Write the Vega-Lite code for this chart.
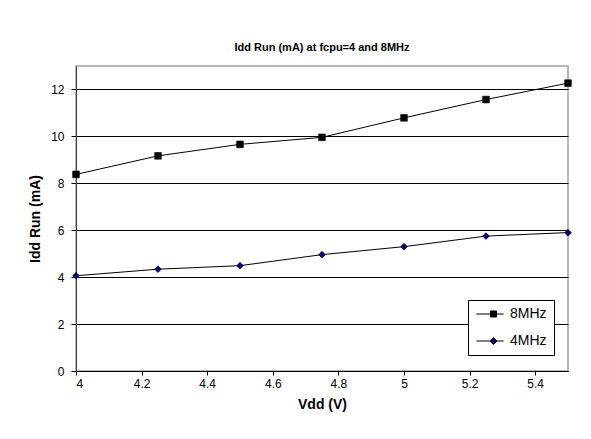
{
  "$schema": "https://vega.github.io/schema/vega-lite/v6.json",
  "autosize": "none",
  "width": 492,
  "height": 305,
  "padding": {"left": 76, "top": 66, "right": 23, "bottom": 68},
  "background": "white",
  "title": {
    "text": "Idd Run (mA) at fcpu=4 and 8MHz",
    "font": "Liberation Sans",
    "fontSize": 11,
    "fontWeight": "bold",
    "color": "black",
    "anchor": "middle",
    "offset": 13
  },
  "config": {
    "view": {"stroke": "#a0a0a0", "strokeWidth": 1.5},
    "axis": {
      "labelFont": "Liberation Sans",
      "titleFont": "Liberation Sans",
      "labelColor": "black",
      "titleColor": "black",
      "labelFontSize": 12,
      "titleFontSize": 14,
      "titleFontWeight": "bold"
    }
  },
  "data": {
    "values": [
      {"vdd": 4.0, "idd": 8.38, "series": "8MHz"},
      {"vdd": 4.25, "idd": 9.17, "series": "8MHz"},
      {"vdd": 4.5, "idd": 9.66, "series": "8MHz"},
      {"vdd": 4.75, "idd": 9.96, "series": "8MHz"},
      {"vdd": 5.0, "idd": 10.79, "series": "8MHz"},
      {"vdd": 5.25, "idd": 11.57, "series": "8MHz"},
      {"vdd": 5.5, "idd": 12.27, "series": "8MHz"},
      {"vdd": 4.0, "idd": 4.06, "series": "4MHz"},
      {"vdd": 4.25, "idd": 4.34, "series": "4MHz"},
      {"vdd": 4.5, "idd": 4.49, "series": "4MHz"},
      {"vdd": 4.75, "idd": 4.96, "series": "4MHz"},
      {"vdd": 5.0, "idd": 5.3, "series": "4MHz"},
      {"vdd": 5.25, "idd": 5.75, "series": "4MHz"},
      {"vdd": 5.5, "idd": 5.9, "series": "4MHz"}
    ]
  },
  "encoding": {
    "x": {
      "field": "vdd",
      "type": "quantitative",
      "title": "Vdd (V)",
      "scale": {"domain": [4, 5.5], "nice": false, "zero": false},
      "axis": {
        "values": [4, 4.2, 4.4, 4.6, 4.8, 5, 5.2, 5.4],
        "format": "~g",
        "grid": false,
        "domainColor": "black",
        "tickColor": "black",
        "tickSize": 4,
        "labelPadding": 3,
        "titlePadding": 8
      }
    },
    "y": {
      "field": "idd",
      "type": "quantitative",
      "title": "Idd Run (mA)",
      "scale": {"domain": [0, 13], "nice": false},
      "axis": {
        "values": [0, 2, 4, 6, 8, 10, 12],
        "grid": true,
        "gridColor": "black",
        "gridOpacity": 1,
        "domainColor": "#404040",
        "tickColor": "black",
        "tickSize": 5,
        "labelPadding": 7,
        "titlePadding": 8
      }
    }
  },
  "layer": [
    {
      "mark": {"type": "line", "color": "black", "strokeWidth": 1},
      "encoding": {"detail": {"field": "series"}}
    },
    {
      "mark": {"type": "point", "filled": true, "stroke": "black", "strokeWidth": 0.6, "size": 45, "opacity": 1},
      "encoding": {
        "shape": {
          "field": "series",
          "type": "nominal",
          "scale": {"domain": ["8MHz", "4MHz"], "range": ["square", "diamond"]},
          "legend": null
        },
        "fill": {
          "field": "series",
          "type": "nominal",
          "scale": {"domain": ["8MHz", "4MHz"], "range": ["black", "#000080"]},
          "legend": null
        }
      }
    },
    {
      "mark": {"type": "point", "filled": true, "strokeWidth": 1, "size": 49, "opacity": 0},
      "encoding": {
        "shape": {
          "field": "series",
          "type": "nominal",
          "scale": {"domain": ["8MHz", "4MHz"], "range": ["M-1.6,0H6.2M2.44,-0.86H4.16V0.86H2.44Z", "M-1.6,0H6.2M3.3,-1L4.3,0L3.3,1L2.3,0Z"]},
          "legend": {
            "orient": "none",
            "legendX": 392,
            "legendY": 234,
            "title": null,
            "strokeColor": "black",
            "fillColor": "white",
            "padding": 7,
            "rowPadding": 13,
            "symbolSize": 49,
            "symbolOpacity": 1,
            "symbolStrokeWidth": 1,
            "labelFont": "Liberation Sans",
            "labelFontSize": 14,
            "labelColor": "black",
            "labelOffset": 21
          }
        },
        "fill": {
          "field": "series",
          "type": "nominal",
          "scale": {"domain": ["8MHz", "4MHz"], "range": ["black", "#000080"]}
        },
        "stroke": {
          "field": "series",
          "type": "nominal",
          "scale": {"domain": ["8MHz", "4MHz"], "range": ["black", "black"]}
        }
      }
    }
  ],
  "resolve": {
    "scale": {"shape": "independent", "fill": "independent", "stroke": "independent"},
    "legend": {"shape": "independent", "fill": "independent", "stroke": "independent"}
  }
}
